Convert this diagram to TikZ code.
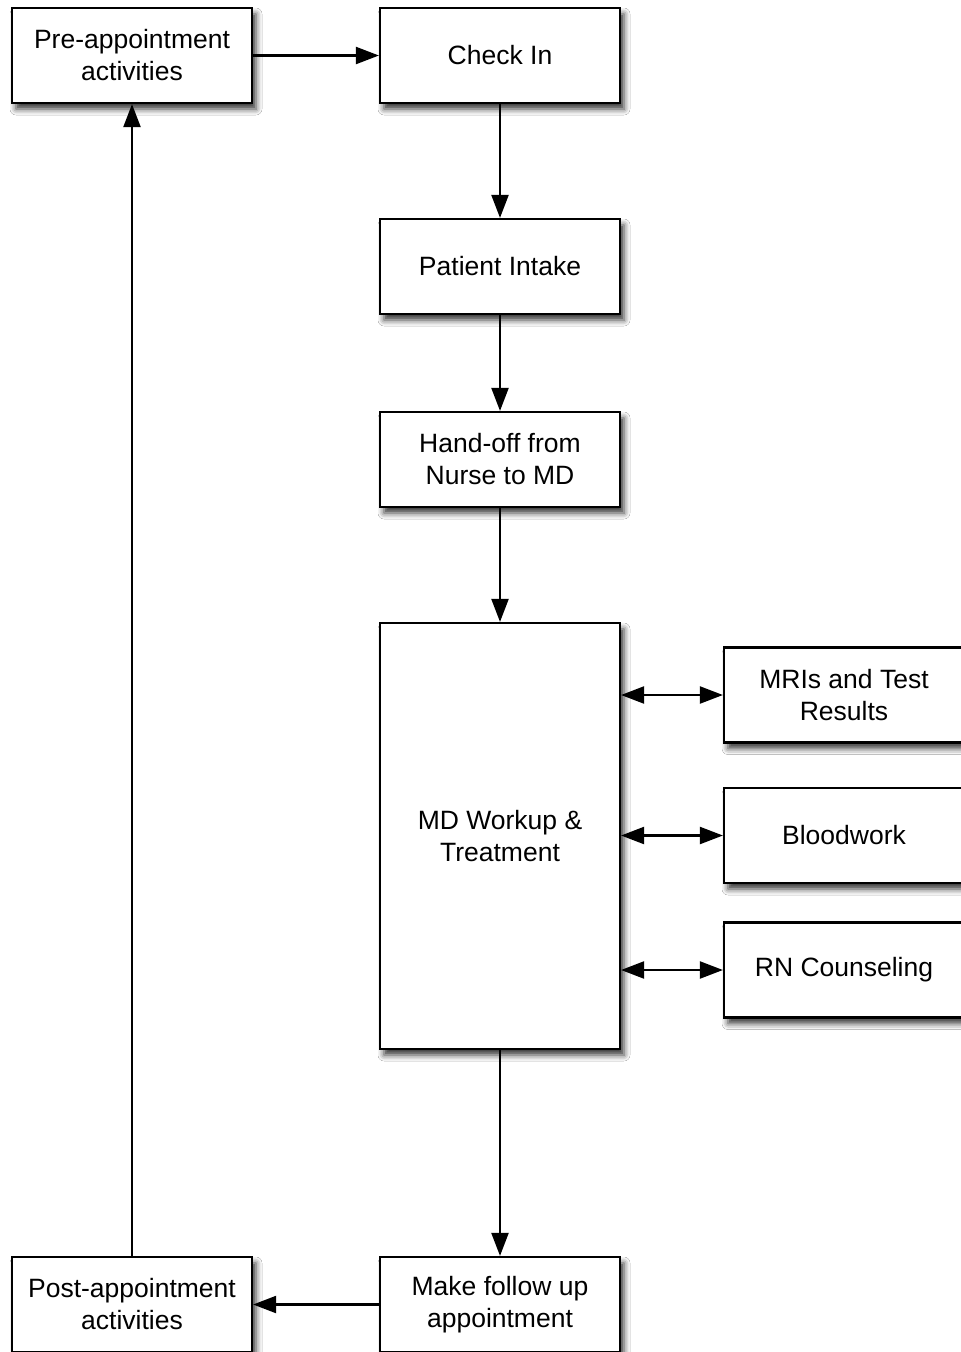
\documentclass[tikz,border=0pt]{standalone}
\usepackage{fontspec}
\setmainfont{Liberation Sans}
\usetikzlibrary{arrows.meta,shadows.blur}
\begin{document}
\begin{tikzpicture}[x=1pt,y=-1pt,
  box/.style={draw=black, line width=2.2pt, fill=white, minimum width=240pt,
    minimum height=95pt, align=center, inner sep=2pt,
    font=\fontsize{26.5}{32}\selectfont,
    blur shadow={shadow xshift=4pt, shadow yshift=-6pt, shadow blur radius=6pt,
      shadow opacity=80}},
  flow/.style={line width=2.2pt, -{Triangle[length=23pt,width=17pt]}},
  both/.style={line width=2.2pt, {Triangle[length=23pt,width=17pt]}-{Triangle[length=23pt,width=17pt]}}]
\useasboundingbox (0,0) rectangle (961,1352);
\fill[white] (0,0) rectangle (961,1352);

% main column and loop boxes
\node[box] (pre)    at (132,55.5)  {Pre-appointment\\activities};
\node[box] (check)  at (500,55.5)  {Check In};
\node[box] (intake) at (500,266.5) {Patient Intake};
\node[box] (hand)   at (500,459.5) {Hand-off from\\Nurse to MD};
\node[box, minimum height=426pt] (md) at (500,836) {MD Workup \&\\Treatment};
\node[box] (follow) at (500,1304.5) {Make follow up\\appointment};
\node[box] (post)   at (132,1304.5) {Post-appointment\\activities};

% side services
\node[box] (mri)   at (844,695)   {MRIs and Test\\Results};
\node[box] (blood) at (844,835.5) {Bloodwork};
\node[box] (rn)    at (844,970)   {RN Counseling};

% connectors
\draw[flow] (pre) -- (check);
\draw[flow] (check) -- (intake);
\draw[flow] (intake) -- (hand);
\draw[flow] (hand) -- (md);
\draw[flow] (md) -- (follow);
\draw[flow] (follow) -- (post);
\draw[flow] (post) -- (pre);
\draw[both] (mri.west -| md.east) -- (mri.west);
\draw[both] (blood.west -| md.east) -- (blood.west);
\draw[both] (rn.west -| md.east) -- (rn.west);
\end{tikzpicture}
\end{document}
